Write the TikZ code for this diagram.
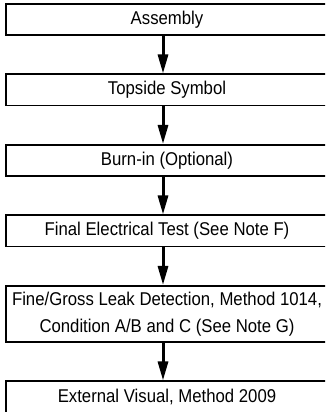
\documentclass[tikz,border=0pt]{standalone}
\usepackage{fontspec}
\setmainfont{Liberation Sans}[FakeStretch=0.905]
\usetikzlibrary{positioning,arrows.meta}

\begin{document}
\begin{tikzpicture}[x=1pt,y=1pt,node distance=37.5pt,
    stage/.style={draw,line width=1.6pt,minimum width=322pt,minimum height=31.4pt,
        inner sep=2pt,align=center,font=\fontsize{18.5}{27}\selectfont},
    flow/.style={-{Triangle[length=19pt,width=10pt]},line width=3pt}]
    \useasboundingbox (0,0) rectangle (325,412);
    \clip (0,0) rectangle (325,412);
    \node[stage] (asm)                         at (167,392.5) {Assembly};
    \node[stage] (sym)   [below=of asm]        {Topside Symbol};
    \node[stage] (burn)  [below=of sym]        {Burn-in (Optional)};
    \node[stage] (elec)  [below=of burn]       {Final Electrical Test (See Note F)};
    \node[stage,minimum height=56.4pt] (leak) [below=of elec]
        {Fine/Gross Leak Detection, Method 1014,\\Condition A/B and C (See Note G)};
    \node[stage] (vis)   [below=of leak]       {External Visual, Method 2009};
    \foreach \a/\b in {asm/sym,sym/burn,burn/elec,elec/leak,leak/vis}
        \draw[flow] ([xshift=-4pt]\a.south) -- ([xshift=-4pt]\b.north);
\end{tikzpicture}
\end{document}
